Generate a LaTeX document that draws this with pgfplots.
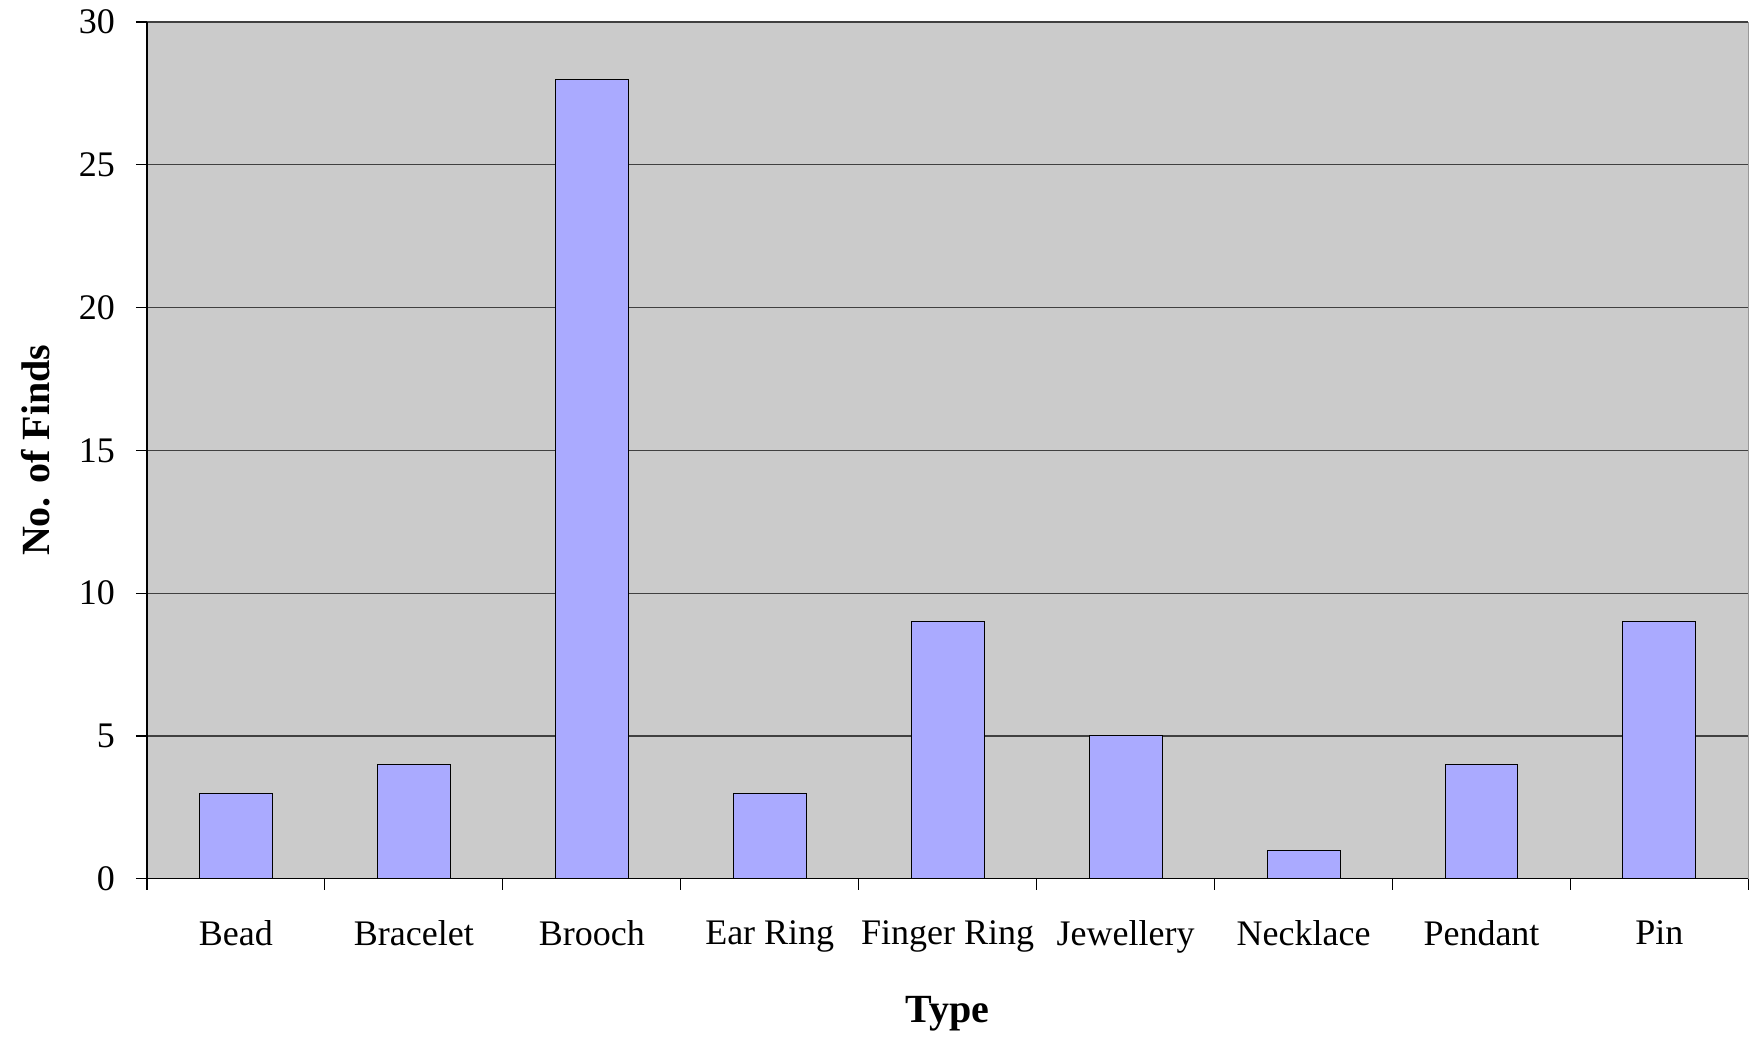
\documentclass[border=0pt]{standalone}
\usepackage{fontspec}
\setmainfont{Liberation Serif}
\usepackage{pgfplots}
\pgfplotsset{compat=1.18}
\definecolor{barfill}{HTML}{AAAAFF}
\definecolor{plotbg}{HTML}{CBCBCB}

\begin{document}
\begin{tikzpicture}
  \begin{axis}[
      scale only axis,
      width=801pt, height=428.5pt,
      clip=false,
      xmin=-0.5, xmax=8.5,
      ymin=0, ymax=30,
      axis background/.style={fill=plotbg, draw=gray!80},
      axis lines*=left,
      axis line style={black, line width=0.6pt},
      tick align=outside,
      major tick length=5.5pt,
      tick style={black, line width=0.6pt},
      ytick={0,5,...,30},
      ymajorgrids=true,
      grid style={black!75, line width=0.6pt},
      xtick={-0.5,0.5,...,8.5},
      x tick label as interval,
      xticklabels={Bead, Bracelet, Brooch, Ear Ring, Finger Ring, Jewellery, Necklace, Pendant, Pin},
      /pgf/number format/assume math mode=true,
      ticklabel style={font=\fontsize{18}{22}\selectfont},
      xticklabel style={yshift=-12pt},
      yticklabel style={xshift=-7pt},
      xlabel={\textbf{Type}},
      ylabel={\textbf{No. of Finds}},
      xlabel style={font=\fontsize{20}{24}\selectfont, at={(axis description cs:0.5,-0.158)}, anchor=center},
      ylabel style={font=\fontsize{20}{24}\selectfont, at={(axis description cs:-0.0693,0.5)}, anchor=center},
    ]
    \addplot[ybar, bar width=36.5pt, fill=barfill, draw=black, line width=0.5pt]
      coordinates {(0,3) (1,4) (2,28) (3,3) (4,9) (5,5) (6,1) (7,4) (8,9)};
    % page margins as in the reference
    \path (rel axis cs:-0.09176,-0.182) rectangle (rel axis cs:1,1.0257);
  \end{axis}
\end{tikzpicture}
\end{document}
